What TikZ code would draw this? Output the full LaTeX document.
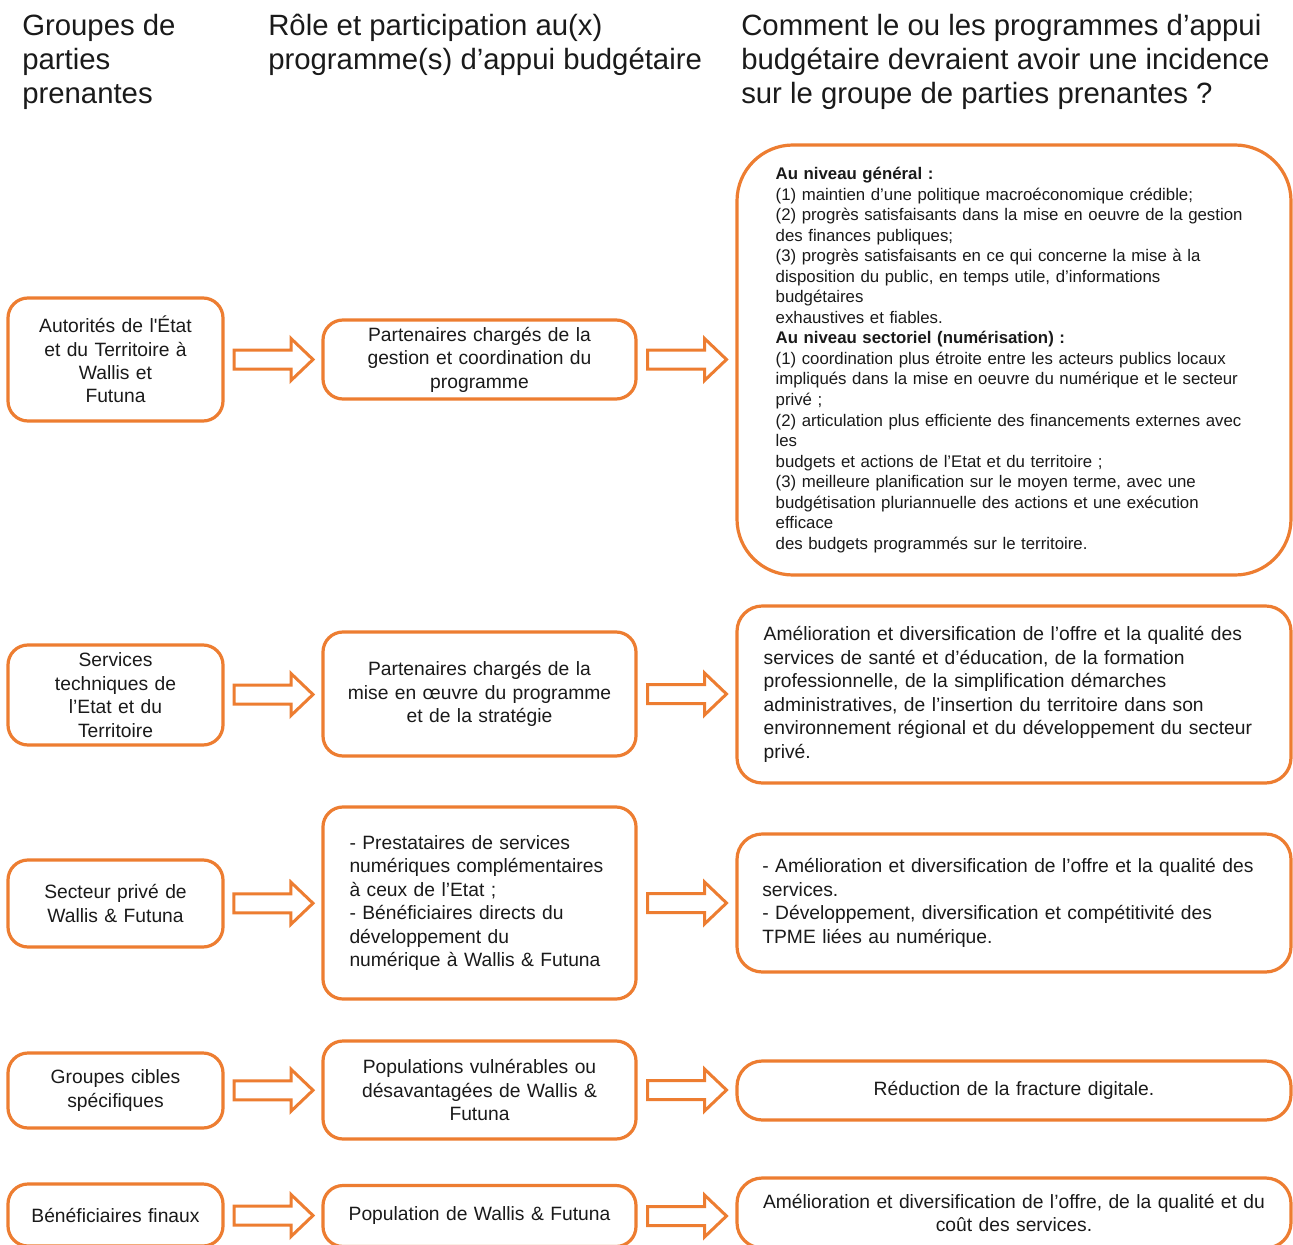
\documentclass[tikz,border=0pt]{standalone}
\usepackage{fontspec}
\setmainfont{Liberation Sans}[Ligatures=TeXOff]
\usetikzlibrary{calc}

\definecolor{boxorange}{HTML}{ED7D31}
\definecolor{txt}{HTML}{1A1A1A}

\tikzset{
  box/.style={draw=boxorange, line width=2.4pt, rounded corners=15pt, fill=white, text=txt,
    font=\fontsize{14.45}{17.6}\selectfont, align=center},
  grp/.style={box, minimum width=161.25pt, text width=140pt},
  role/.style={box, minimum width=234.75pt, text width=215pt},
  impact/.style={box, minimum width=415.5pt, text width=390pt, rounded corners=19pt},
  head/.style={anchor=north west, inner sep=0pt, align=left, text=txt,
    font=\fontsize{22}{25.5}\selectfont},
  arrowline/.style={draw=boxorange, line width=2.25pt, fill=white},
  fatarrow/.pic={
    \draw[arrowline] (-39,-9.5) -- (18,-9.5) -- (18,-21) -- (40,0) -- (18,21) -- (18,9.5) -- (-39,9.5) -- cycle;
  }
}

\begin{document}
\begin{tikzpicture}[x=0.75pt, y=-0.75pt]
    \useasboundingbox[fill=white] (0,0) rectangle (1293,1245);

    % Headers
    \node[head] (h1) at (22,14) {Groupes de\\parties\\prenantes};
    \node[head] (h2) at (268,14) {Rôle et participation au(x)\\programme(s) d’appui budgétaire};
    \node[head] (h3) at (741,14) {Comment le ou les programmes d’appui\\budgétaire devraient avoir une incidence\\sur le groupe de parties prenantes ?};

    % Stakeholder groups
    \node[grp, minimum height=92.25pt] (g1) at (115.5,359.5) {Autorités de l'État\\et du Territoire à\\Wallis et\\Futuna};
    \node[grp, minimum height=75pt] (g2) at (115.5,695) {Services\\techniques de\\l’Etat et du\\Territoire};
    \node[grp, minimum height=65.25pt] (g3) at (115.5,903.5) {Secteur privé de\\Wallis \& Futuna};
    \node[grp, minimum height=56.25pt] (g4) at (115.5,1090.5) {Groupes cibles\\spécifiques};
    \node[grp, minimum height=46.5pt] (g5) at (115.5,1215) {Bénéficiaires finaux};

    % Roles
    \node[role, minimum height=59.25pt] (r1) at (479.5,359.5) {Partenaires chargés de la\\gestion et coordination du\\programme};
    \node[role, minimum height=93pt] (r2) at (479.5,694) {Partenaires chargés de la\\mise en œuvre du programme\\et de la stratégie};
    \node[role, minimum height=144pt, align=left, text width=195pt, inner xsep=19.9pt] (r3) at (479.5,903)
      {- Prestataires de services\\numériques complémentaires\\à ceux de l’Etat ;\\- Bénéficiaires directs du\\développement du\\numérique à Wallis \& Futuna};
    \node[role, minimum height=73.5pt] (r4) at (479.5,1090) {Populations vulnérables ou\\désavantagées de Wallis \&\\Futuna};
    \node[role, minimum height=45.75pt] (r5) at (479.5,1216) {Population de Wallis \& Futuna};

    % Expected effects
    \node[impact, minimum height=322.5pt, rounded corners=42pt, align=left, text width=357.5pt, inner xsep=29pt,
      font=\fontsize{12.6}{15.4}\selectfont] (i1) at (1014,360)
      {\textbf{Au niveau général :}\\
       (1) maintien d’une politique macroéconomique crédible;\\
       (2) progrès satisfaisants dans la mise en oeuvre de la gestion\\
       des finances publiques;\\
       (3) progrès satisfaisants en ce qui concerne la mise à la\\
       disposition du public, en temps utile, d’informations\\
       budgétaires\\
       exhaustives et fiables.\\
       \textbf{Au niveau sectoriel (numérisation) :}\\
       (1) coordination plus étroite entre les acteurs publics locaux\\
       impliqués dans la mise en oeuvre du numérique et le secteur\\
       privé ;\\
       (2) articulation plus efficiente des financements externes avec\\
       les\\
       budgets et actions de l’Etat et du territoire ;\\
       (3) meilleure planification sur le moyen terme, avec une\\
       budgétisation pluriannuelle des actions et une exécution\\
       efficace\\
       des budgets programmés sur le territoire.};
    \node[impact, minimum height=132.75pt, align=left, text width=375.5pt, inner xsep=20pt] (i2) at (1014,694.5)
      {Amélioration et diversification de l’offre et la qualité des\\services de santé et d’éducation, de la formation\\professionnelle, de la simplification démarches\\administratives, de l’insertion du territoire dans son\\environnement régional et du développement du secteur\\privé.};
    \node[impact, minimum height=103.5pt, align=left, text width=377.5pt, inner xsep=19pt] (i3) at (1014,903)
      {- Amélioration et diversification de l’offre et la qualité des\\services.\\- Développement, diversification et compétitivité des\\TPME liées au numérique.};
    \node[impact, minimum height=44.25pt] (i4) at (1014,1090.5) {Réduction de la fracture digitale.};
    \node[impact, minimum height=52.5pt] (i5) at (1014,1213) {Amélioration et diversification de l’offre, de la qualité et du\\coût des services.};

    % Block arrows
    \foreach \n in {1,...,5} {
      \path ($(g\n.east)!0.5!(r\n.west)$) pic {fatarrow};
      \path (r\n.east) -- (i\n.west) coordinate[pos=0.5] (m\n);
      \path (m\n |- r\n) pic {fatarrow};
    }
\end{tikzpicture}
\end{document}
